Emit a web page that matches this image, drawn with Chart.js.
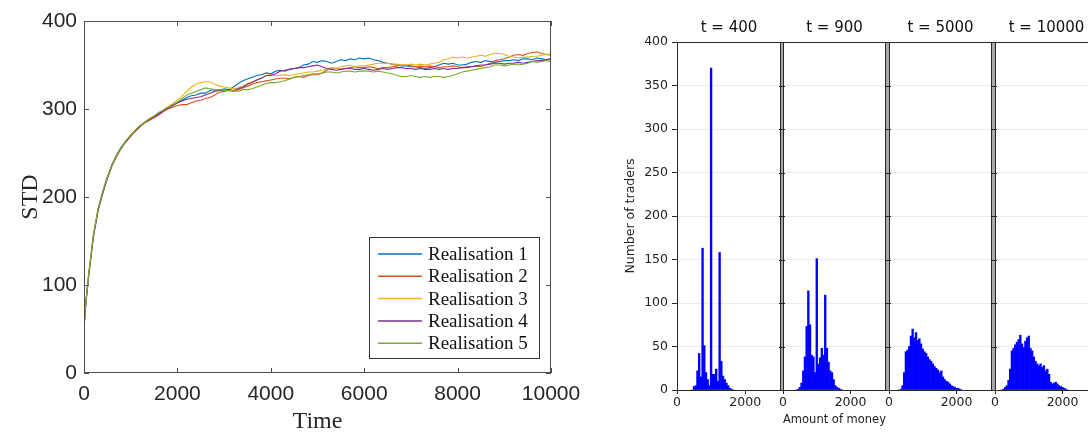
<!DOCTYPE html>
<html><head><meta charset="utf-8">
<script src="https://cdn.jsdelivr.net/npm/chart.js@4.4.0/dist/chart.umd.min.js"></script>
<style>
html,body{margin:0;padding:0;background:#fff;overflow:hidden;width:1088px;height:433px;position:relative}
canvas{position:absolute;top:0}
.gap{position:absolute;top:42px;height:348px;background:#a8a8a8}
</style></head><body>
<div class="gap" style="left:781px;width:2px"></div>
<div class="gap" style="left:886px;width:3px"></div>
<div class="gap" style="left:992px;width:3px"></div>
<canvas id="c0" width="600" height="433" style="left:0"></canvas>
<canvas id="c1" width="203" height="433" style="left:590px"></canvas>
<canvas id="c2" width="125" height="433" style="left:773px"></canvas>
<canvas id="c3" width="125" height="433" style="left:879px"></canvas>
<canvas id="c4" width="125" height="433" style="left:985px"></canvas>
<script>
// ---------- left chart data ----------
const timeSteps = [0,5,25,50,100,
 200,300,400,500,600,700,800,900,1000,1100,1200,1300,1400,1500,1600,1700,1800,1900,2000,
 2100,2200,2300,2400,2500,2600,2700,2800,2900,3000,
 3100,3200,3300,3400,3500,3600,3700,3800,3900,4000,
 4100,4200,4300,4400,4500,4600,4700,4800,4900,5000,
 5100,5200,5300,5400,5500,5600,5700,5800,5900,6000,
 6100,6200,6300,6400,6500,6600,6700,6800,6900,7000,
 7100,7200,7300,7400,7500,7600,7700,7800,7900,8000,
 8100,8200,8300,8400,8500,8600,8700,8800,8900,9000,
 9100,9200,9300,9400,9500,9600,9700,9800,9900,10000];
const realisation1 = [0,56,71,86,112,
 156,186,206,223,237,248,257,264,270,276,281,285,288,291,295,298,301,304,307,
 310,313,315,316,318,318,321,322,321,323,
 322,325,329,332,334,336,338,339,341,340,
 343,344,343,345,346,347,350,351,354,353,
 355,354,352,354,356,355,357,356,358,357,
 358,356,355,353,352,351,350,349,349,348,
 348,347,346,347,348,350,352,351,352,350,
 350,351,353,354,353,355,354,353,354,355,
 355,356,355,357,357,356,358,357,356,357];
const realisation2 = [0,55,70,85,111,
 155,185,204,222,236,247,256,263,270,275,280,284,287,290,293,297,300,302,304,
 305,305,307,309,310,312,313,316,319,320,
 321,320,322,324,326,328,330,331,332,333,
 334,335,335,334,336,337,336,338,339,339,
 341,344,347,346,345,346,347,348,347,347,
 348,347,346,347,347,348,349,350,350,349,
 348,349,348,349,348,347,348,348,349,348,
 347,347,348,349,348,350,352,355,356,357,
 359,361,362,361,363,364,365,363,362,361];
const realisation3 = [0,55,72,87,113,
 157,186,205,221,235,246,255,264,271,276,281,285,289,292,296,299,303,306,310,
 315,320,325,328,330,331,331,328,326,325,
 324,323,324,326,329,331,333,335,338,339,
 338,338,339,338,339,340,341,342,342,343,
 344,345,347,346,348,349,350,348,349,349,
 350,351,352,352,352,351,351,350,350,351,
 350,351,350,351,352,353,356,357,359,358,
 359,358,359,360,361,360,362,363,363,362,
 360,359,358,359,359,360,360,361,362,363];
const realisation4 = [0,54,70,84,110,
 154,184,204,221,236,247,256,263,269,275,280,285,288,291,294,298,301,304,307,
 309,311,312,313,314,316,318,320,321,321,
 322,321,323,325,328,330,333,335,338,338,
 340,343,344,345,346,347,347,348,349,350,
 348,346,345,344,345,346,346,345,345,346,
 345,344,345,346,345,346,347,347,346,346,
 345,346,345,345,346,345,346,345,346,346,
 347,348,348,349,350,350,351,352,352,351,
 352,352,353,352,353,354,355,355,356,357];
const realisation5 = [0,55,71,86,112,
 156,186,206,222,236,247,256,264,270,276,281,285,289,292,296,299,302,305,308,
 312,316,318,320,322,324,323,322,322,321,
 321,321,320,322,322,323,325,327,329,330,
 330,331,332,334,336,337,338,339,340,340,
 341,342,342,341,342,343,343,342,343,343,
 343,342,343,342,341,340,338,337,337,338,
 337,336,337,336,337,337,336,337,338,340,
 342,343,344,345,346,347,348,350,350,349,
 350,351,350,351,352,354,353,354,355,354];
const seriesLabels = ['Realisation 1','Realisation 2','Realisation 3','Realisation 4','Realisation 5'];
const seriesColors = ['#0072BD','#D95319','#EDB120','#7E2F8E','#77AC30'];
const leftXTicks = [0,2000,4000,6000,8000,10000];
const leftYTicks = [0,100,200,300,400];

// ---------- histogram data ----------
const panelTitles = ['t = 400','t = 900','t = 5000','t = 10000'];
const bins400 = [450,500,550,600,650,700,750,800,850,900,950,1000,1050,1100,1150,1200,1250,1300,1350,1400,1450,1500,1550,1600,1650];
const counts400 = [0,4,5,22,42,15,163,51,20,12,5,370,18,18,24,10,158,33,16,12,8,5,2,1,0];
const bins900 = [400,450,500,550,600,650,700,750,800,850,900,950,1000,1050,1100,1150,1200,1250,1300,1350,1400,1450,1500,1550,1600,1650,1700,1750];
const counts900 = [0,1,3,8,22,38,73,114,75,40,38,20,151,30,37,48,40,109,48,32,22,20,12,5,3,2,1,0];
const bins5000 = [300,350,400,450,500,550,600,650,700,750,800,850,900,950,1000,1050,1100,1150,1200,1250,1300,1350,1400,1450,1500,1550,1600,1650,1700,1750,1800,1850,1900,1950,2000,2050,2100,2150];
const counts5000 = [0,1,5,20,44,46,50,62,70,60,66,57,59,53,47,44,42,38,35,33,30,27,25,23,20,22,15,12,10,9,7,5,4,3,2,2,1,0];
const bins10000 = [200,250,300,350,400,450,500,550,600,650,700,750,800,850,900,950,1000,1050,1100,1150,1200,1250,1300,1350,1400,1450,1500,1550,1600,1650,1700,1750,1800,1850,1900,1950,2000,2050,2100,2150];
const counts10000 = [0,1,3,5,11,24,45,48,52,55,58,63,53,49,56,60,62,48,45,38,33,30,28,30,26,28,22,24,18,9,7,8,9,7,5,4,3,2,1,0];
const histXTicks = [0,2000];
const histYTicks = [0,50,100,150,200,250,300,350,400];

// ---------- left chart ----------
const serif = "'Liberation Serif','Times New Roman',serif";
const sans = "'Liberation Sans',Arial,sans-serif";
const allSeries = [realisation1,realisation2,realisation3,realisation4,realisation5];
const plain = v => String(v);

const matlabBox = {
  id:'matlabBox',
  afterDatasetsDraw(chart){
    const {ctx, chartArea:a, scales:{x,y}} = chart;
    ctx.save();
    ctx.strokeStyle='#4d4d4d'; ctx.lineWidth=1;
    ctx.strokeRect(a.left+0.5, a.top+0.5, a.right-a.left-1, a.bottom-a.top-1);
    ctx.beginPath();
    x.ticks.forEach(t=>{const p=Math.round(x.getPixelForValue(t.value))+0.5;
      ctx.moveTo(p,a.bottom); ctx.lineTo(p,a.bottom-5); ctx.moveTo(p,a.top); ctx.lineTo(p,a.top+5);});
    y.ticks.forEach(t=>{const p=Math.round(y.getPixelForValue(t.value))+0.5;
      ctx.moveTo(a.left,p); ctx.lineTo(a.left+5,p); ctx.moveTo(a.right,p); ctx.lineTo(a.right-5,p);});
    ctx.stroke();
    // legend
    const bx=369.5, by=237.5, bw=170, bh=121;
    ctx.fillStyle='#fff'; ctx.fillRect(bx,by,bw,bh);
    ctx.strokeStyle='#333'; ctx.strokeRect(bx,by,bw,bh);
    ctx.font = "19px "+serif; ctx.textBaseline='middle'; ctx.textAlign='left';
    chart.data.datasets.forEach((ds,i)=>{
      const yy = 254 + i*22.3;
      ctx.strokeStyle=ds.borderColor; ctx.lineWidth=1.5;
      ctx.beginPath(); ctx.moveTo(378,yy); ctx.lineTo(422,yy); ctx.stroke();
      ctx.fillStyle='#111'; ctx.fillText(ds.label, 428, yy+1);
    });
    ctx.restore();
  }
};

new Chart(document.getElementById('c0'), {
  type:'line',
  data:{ datasets: seriesLabels.map((lab,i)=>({
    label:lab, borderColor:seriesColors[i], backgroundColor:seriesColors[i],
    borderWidth:1.1, pointRadius:0, tension:0, order:5-i,
    data: timeSteps.map((t,k)=>({x:t,y:allSeries[i][k]}))
  }))},
  options:{
    responsive:false, animation:false, devicePixelRatio:1,
    layout:{padding:{top:21,right:49,left:0,bottom:0}},
    plugins:{legend:{display:false}, tooltip:{enabled:false}},
    scales:{
      x:{type:'linear', min:0, max:10000,
        afterBuildTicks:s=>{s.ticks=leftXTicks.map(v=>({value:v}));},
        afterFit:s=>{s.height=60; s.paddingLeft=0; s.paddingRight=0;},
        grid:{display:false, drawTicks:false}, border:{display:false},
        ticks:{font:{family:sans,size:21}, color:'#262626', padding:9, maxRotation:0, callback:plain},
        title:{display:true, text:'Time', font:{family:serif,size:24,lineHeight:0.9}, color:'#262626', padding:{top:0,bottom:0}}
      },
      y:{type:'linear', min:0, max:400,
        afterBuildTicks:s=>{s.ticks=leftYTicks.map(v=>({value:v}));},
        afterFit:s=>{s.width=84; s.paddingTop=0; s.paddingBottom=0;},
        grid:{display:false, drawTicks:false}, border:{display:false},
        ticks:{font:{family:sans,size:21}, color:'#262626', padding:7, callback:plain},
        title:{display:true, text:'STD', font:{family:serif,size:24}, color:'#262626', padding:{top:16,bottom:0}}
      }
    }
  },
  plugins:[matlabBox]
});

// ---------- histograms ----------
const dv = "'DejaVu Sans',sans-serif";
const panels = [
  {id:'c1', bins:bins400, counts:counts400, padL:0, yAxisW:87},
  {id:'c2', bins:bins900, counts:counts900, padL:10, yAxisW:0, xTitle:'Amount of money'},
  {id:'c3', bins:bins5000, counts:counts5000, padL:10, yAxisW:0},
  {id:'c4', bins:bins10000, counts:counts10000, padL:10, yAxisW:0}
];
panels.forEach((p,idx)=>{
  const frame = {
    id:'frame'+idx,
    afterDraw(chart){
      const {ctx, chartArea:a, scales:{y}} = chart;
      ctx.save();
      ctx.strokeStyle='#262626'; ctx.lineWidth=1;
      ctx.strokeRect(a.left+0.5, a.top+0.5, a.right-a.left-1, a.bottom-a.top);
      if(idx>0){
        ctx.beginPath();
        y.ticks.forEach(t=>{const py=Math.round(y.getPixelForValue(t.value))+0.5;
          ctx.moveTo(a.left-4,py); ctx.lineTo(a.left+2,py);});
        ctx.stroke();
      }
      ctx.fillStyle='#111'; ctx.font='15px '+dv; ctx.textAlign='center'; ctx.textBaseline='middle';
      ctx.fillText(panelTitles[idx], (a.left+a.right)/2, 28);
      ctx.restore();
    }
  };
  new Chart(document.getElementById(p.id), {
    type:'bar',
    data:{datasets:[{data:p.bins.map((b,k)=>({x:b,y:p.counts[k]})),
      backgroundColor:'#0000ff', borderWidth:0, barPercentage:1, categoryPercentage:1}]},
    options:{
      responsive:false, animation:false, devicePixelRatio:1,
      layout:{padding:{top:42,left:p.padL,right:12,bottom:0}},
      plugins:{legend:{display:false}, tooltip:{enabled:false}},
      scales:{
        x:{type:'linear', min:0, max:3050, offset:false,
          afterBuildTicks:s=>{s.ticks=histXTicks.map(v=>({value:v}));},
          afterFit:s=>{s.height=43; s.paddingLeft=0; s.paddingRight=0;},
          grid:{display:true, drawOnChartArea:false, offset:false, tickLength:4, tickColor:'#262626'},
          border:{display:false},
          ticks:{font:{family:dv,size:12.5}, color:'#222', padding:1.5, maxRotation:0, callback:plain},
          title:{display:!!p.xTitle, text:p.xTitle||'', font:{family:dv,size:12.5}, color:'#222', padding:{top:0,bottom:5.8}}
        },
        y:{type:'linear', min:0, max:400,
          afterBuildTicks:s=>{s.ticks=histYTicks.map(v=>({value:v}));},
          afterFit:s=>{s.width=p.yAxisW; s.paddingTop=0; s.paddingBottom=0;},
          grid:{color:'#ebebeb', lineWidth:1, drawTicks:idx===0, tickLength:5, tickColor:'#262626'},
          border:{display:false},
          ticks:{display:idx===0, font:{family:dv,size:12.5}, color:'#222', padding:4, callback:plain},
          title:{display:idx===0, text:'Number of traders', font:{family:dv,size:12.5}, color:'#222', padding:{top:32.8,bottom:0}}
        }
      }
    },
    plugins:[frame]
  });
});
</script>
</body></html>
